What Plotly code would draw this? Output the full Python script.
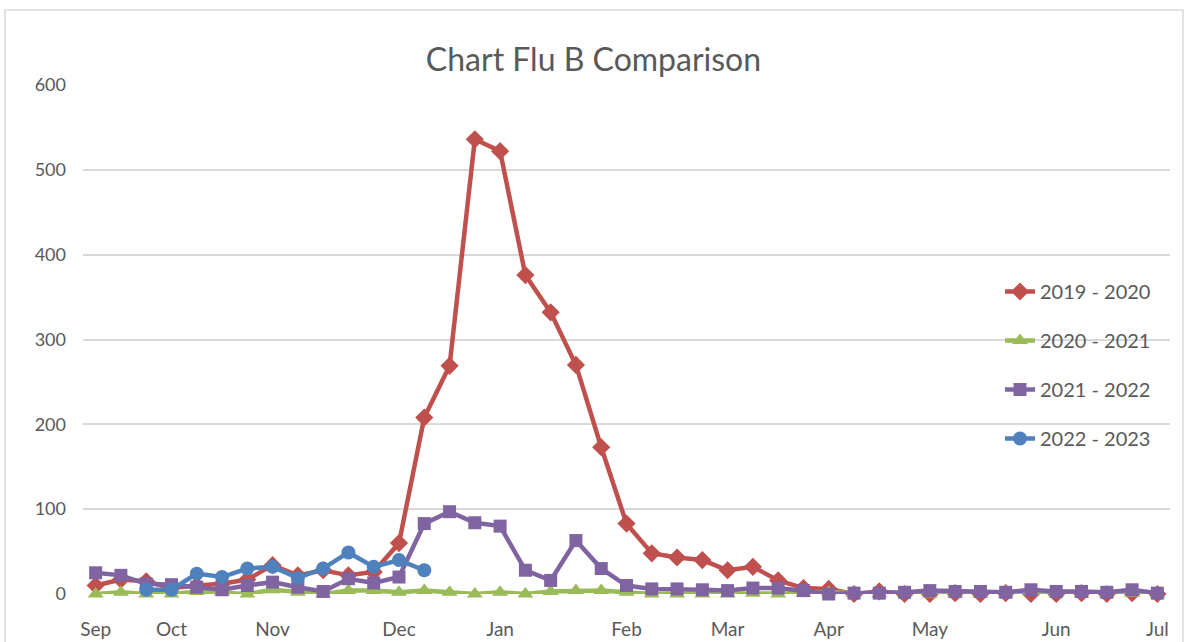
import plotly.graph_objects as go

weeks = list(range(43))
tick_pos = [0, 3, 7, 12, 16, 21, 25, 29, 33, 38, 42]
tick_labels = ["Sep", "Oct", "Nov", "Dec", "Jan", "Feb", "Mar", "Apr", "May", "Jun", "Jul"]

s2019_2020 = [10, 17, 15, 7, 10, 12, 17, 34, 22, 28, 22, 26, 60, 208, 269, 536, 522, 376, 332, 270,
              173, 83, 48, 43, 40, 28, 32, 16, 7, 6, 0, 3, 0, 0, 1, 0, 1, 0, 0, 1, 0, 1, 0]
s2020_2021 = [0, 2, 0, 0, 3, 2, 0, 5, 2, 0, 4, 4, 2, 4, 2, 0, 2, 0, 3, 4,
              4, 2, 0, 0, 0, 0, 1, 0, 1, 2, 1, 0, 1, 0, 0, 0, 0, 2, 1, 0, 0, 1, 0]
s2021_2022 = [25, 22, 12, 11, 8, 5, 10, 14, 8, 3, 18, 13, 20, 83, 97, 84, 80, 28, 16, 63,
              30, 10, 6, 6, 5, 4, 7, 7, 4, 0, 1, 1, 2, 4, 3, 3, 2, 5, 3, 3, 2, 5, 1]
s2022_2023 = [None, None, 5, 5, 24, 20, 30, 32, 19, 30, 49, 32, 40, 28]

series = [
    ("2019 - 2020", s2019_2020, "#C0504D", "diamond", 14),
    ("2020 - 2021", s2020_2021, "#9BBB59", "triangle-up", 14),
    ("2021 - 2022", s2021_2022, "#8064A2", "square", 13),
    ("2022 - 2023", s2022_2023, "#4F81BD", "circle", 14),
]

FONT = "Lato"
fig = go.Figure()
for i, (name, vals, color, sym, size) in enumerate(series):
    fig.add_trace(go.Scatter(
        x=weeks[:len(vals)], y=vals, name=name, mode="lines+markers",
        line=dict(color=color, width=4.5),
        marker=dict(symbol=sym, size=size, color=color),
        legendgroup=str(i), connectgaps=False, cliponaxis=False,
    ))

L, R, T, B = 83, 17, 85, 48
W, H = 1187, 642
pw, ph = W - L - R, H - T - B

fig.update_layout(
    width=W, height=H,
    margin=dict(l=L, r=R, t=T, b=B),
    paper_bgcolor="white", plot_bgcolor="white",
    font=dict(family=FONT, color="#595959", size=18),
    title=dict(text="Chart Flu B Comparison", x=0.5, xanchor="center", y=1 - 60 / H, yanchor="middle",
               font=dict(family=FONT, size=32, color="#595959")),
    showlegend=True,
    legend=dict(x=(1000 - L) / pw, y=(H - B - 272) / ph, xanchor="left", yanchor="top",
                font=dict(size=20, color="#595959"), tracegroupgap=20,
                bgcolor="rgba(0,0,0,0)"),
    xaxis=dict(range=[-0.5, 42.5], tickvals=tick_pos, ticktext=tick_labels,
               showgrid=False, showline=False, zeroline=False, ticks="", automargin=False,
               ticklabelstandoff=22, tickfont=dict(size=19, color="#595959")),
    yaxis=dict(range=[0, 600], tickvals=[0, 100, 200, 300, 400, 500, 600],
               showgrid=True, gridcolor="#d9d9d9", gridwidth=1.5, zeroline=False, automargin=False,
               showline=False, ticks="", ticklabelstandoff=16,
               tickfont=dict(size=18, color="#595959")),
    shapes=[dict(type="rect", xref="paper", yref="paper",
                 x0=(5 - L) / pw, x1=(1183 - L) / pw, y0=(H - B - 660) / ph, y1=(H - B - 10) / ph,
                 line=dict(color="#d9d9d9", width=1.5), layer="below")],
)

fig.write_html("out.html", config={"displayModeBar": False},
               post_script="document.body.style.margin='0';document.body.style.overflow='hidden';")
